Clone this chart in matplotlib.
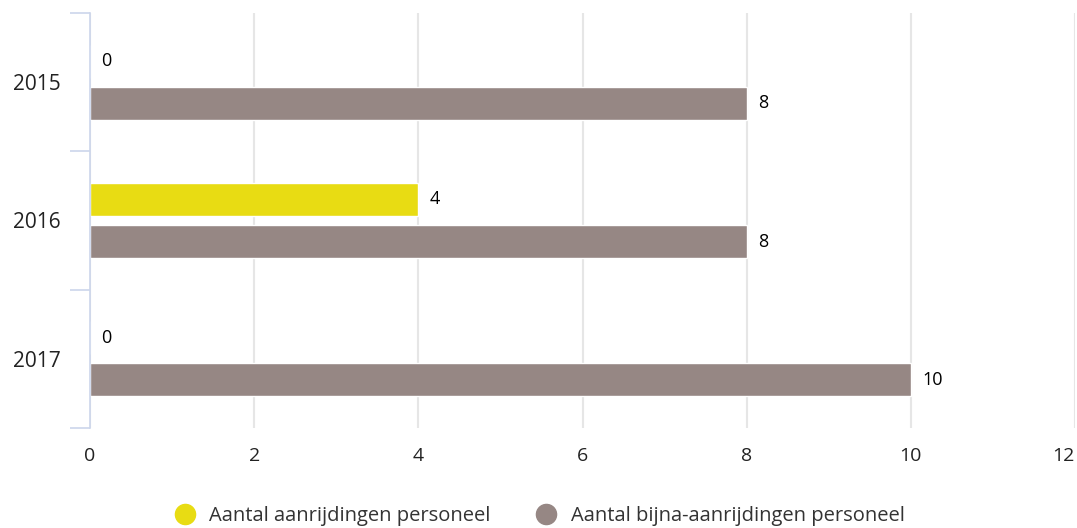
import numpy as np
import matplotlib.pyplot as plt
from matplotlib.lines import Line2D

plt.rcParams['font.family'] = ['Open Sans', 'DejaVu Sans']

# Data
years = ["2015", "2016", "2017"]
aanrijdingen = [0, 4, 0]
bijna_aanrijdingen = [8, 8, 10]
series_names = ["Aantal aanrijdingen personeel", "Aantal bijna-aanrijdingen personeel"]
colors = ["#e8dc13", "#968784"]

fig = plt.figure(figsize=(10.77, 5.28), dpi=100)
ax = fig.add_axes([90 / 1077, 1 - 428 / 528, 985 / 1077, 415 / 528])

y = np.arange(len(years))
h = 0.24
off = 0.152
bars1 = ax.barh(y - off, aanrijdingen, height=h, color=colors[0],
                edgecolor='white', linewidth=1, zorder=3)
bars2 = ax.barh(y + off, bijna_aanrijdingen, height=h, color=colors[1],
                edgecolor='white', linewidth=1, zorder=3)

# value labels
for bars, vals in ((bars1, aanrijdingen), (bars2, bijna_aanrijdingen)):
    for b, v in zip(bars, vals):
        ax.annotate(str(v), (v, b.get_y() + b.get_height() / 2),
                    xytext=(8, 0), textcoords='offset points',
                    ha='left', va='center', fontsize=13, color='black')

ax.set_xlim(0, 12)
ax.set_ylim(len(years) - 0.5, -0.5)
ax.set_xticks(range(0, 13, 2))
ax.tick_params(axis='x', length=0, pad=14, labelsize=14, labelcolor='#222222')
# keep last label inside the figure, like the original
last = ax.get_xticklabels()[-1]
last.set_horizontalalignment('right')

# category labels centred, ticks on the boundaries
ax.set_yticks(y)
ax.set_yticklabels(years)
ax.set_yticks(np.arange(-0.5, len(years), 1), minor=True)
ax.tick_params(axis='y', which='major', length=0, pad=21, labelsize=15, labelcolor='#222222')
ax.tick_params(axis='y', which='minor', length=14.5, width=1.2, color='#ccd6eb')

ax.grid(axis='x', color='#e6e6e6', linewidth=1.5, zorder=0)
for s in ['top', 'right', 'bottom']:
    ax.spines[s].set_visible(False)
ax.spines['left'].set_color('#ccd6eb')
ax.spines['left'].set_linewidth(1.2)
ax.spines['left'].set_zorder(4)

handles = [Line2D([], [], marker='o', linestyle='', markersize=14.5, color=c) for c in colors]
fig.legend(handles, series_names, loc='center', bbox_to_anchor=(0.5, 1 - 516 / 528),
           ncol=2, frameon=False, fontsize=14.5, handletextpad=0.6, columnspacing=2.2,
           handlelength=1.2, labelcolor='#333333', borderpad=0)

fig.savefig('out.png', dpi=100)
